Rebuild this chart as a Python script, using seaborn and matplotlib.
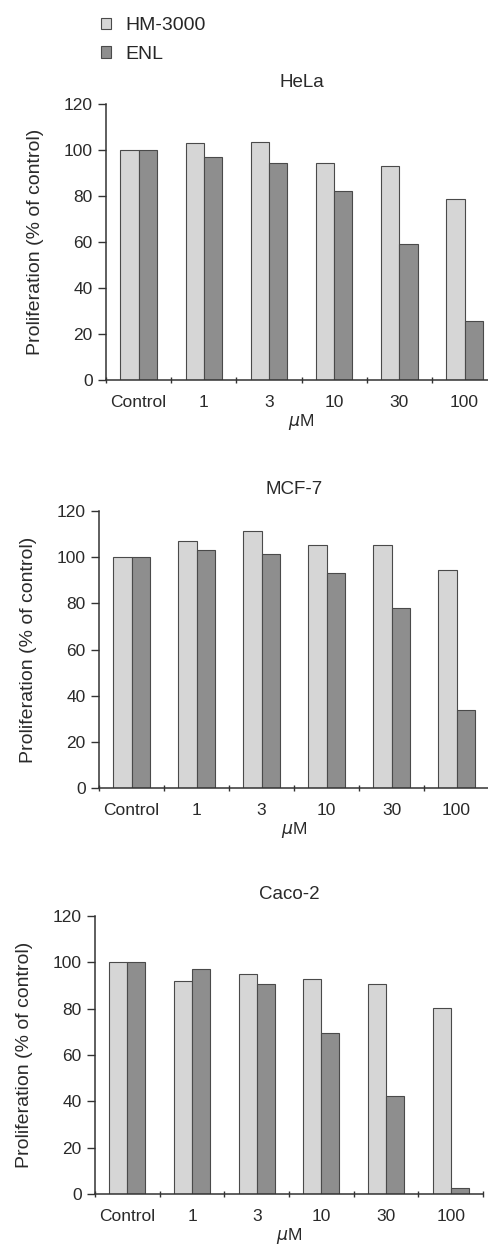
import pandas as pd
import matplotlib
matplotlib.use('Agg')
import matplotlib.pyplot as plt
import seaborn as sns
from matplotlib.patches import Patch

# Data
doses = ['Control', '1', '3', '10', '30', '100']
compounds = ['HM-3000', 'ENL']
cell_lines = ['HeLa', 'MCF-7', 'Caco-2']

hela_hm = [100, 103, 103.5, 94.5, 93, 78.5]
hela_enl = [100, 97, 94.5, 82, 59, 25.5]
mcf7_hm = [100, 107, 111.5, 105.5, 105.5, 94.5]
mcf7_enl = [100, 103, 101.5, 93, 78, 34]
caco2_hm = [100, 92, 95, 93, 90.5, 80.5]
caco2_enl = [100, 97, 90.5, 69.5, 42.5, 2.5]

series = {
    'HeLa': (hela_hm, hela_enl),
    'MCF-7': (mcf7_hm, mcf7_enl),
    'Caco-2': (caco2_hm, caco2_enl),
}

colors = {'HM-3000': '#d6d6d6', 'ENL': '#8e8e8e'}
edge = '#4a4a4a'
text_col = '#2a2a2a'

sns.set_style('ticks')
plt.rcParams['font.family'] = ['Liberation Sans', 'DejaVu Sans']

fig = plt.figure(figsize=(4.89, 12.55), dpi=100)

# axes rectangles [left, bottom, width, height] in figure fractions
rects = [
    [0.2168, 0.6972, 0.800, 0.2199],
    [0.2025, 0.3721, 0.7975, 0.2207],
    [0.1943, 0.0486, 0.7935, 0.2215],
]

for name, rect in zip(cell_lines, rects):
    hm, enl = series[name]
    df = pd.DataFrame({
        'dose': doses * 2,
        'value': hm + enl,
        'compound': ['HM-3000'] * len(doses) + ['ENL'] * len(doses),
    })
    ax = fig.add_axes(rect)
    sns.barplot(data=df, x='dose', y='value', hue='compound', order=doses,
                hue_order=compounds, palette=colors, width=0.56,
                edgecolor=edge, linewidth=0.8, saturation=1, legend=False, ax=ax)
    ax.set_xlim(-0.5, 5.5)
    ax.set_ylim(0, 120)
    ax.set_yticks(range(0, 121, 20))
    ax.set_xticks([i - 0.5 for i in range(7)], minor=True)
    ax.tick_params(axis='x', which='major', length=0, labelsize=12.5, pad=11,
                   labelcolor=text_col)
    ax.tick_params(axis='x', which='minor', length=5, width=1, color='#333333', direction='inout')
    ax.tick_params(axis='y', length=6, width=1, color='#333333', labelsize=12.5,
                   labelcolor=text_col)
    ax.set_title(name, fontsize=13.5, pad=12, color=text_col)
    ax.set_xlabel(r'$\mu$M', fontsize=12.5, labelpad=1, color=text_col)
    ax.set_ylabel('Proliferation (% of control)', fontsize=14, labelpad=14, color=text_col)
    for s in ['top', 'right']:
        ax.spines[s].set_visible(False)
    for s in ['left', 'bottom']:
        ax.spines[s].set_color('#333333')
        ax.spines[s].set_linewidth(1.1)

handles = [Patch(facecolor=colors[c], edgecolor=edge, linewidth=0.8, label=c) for c in compounds]
fig.legend(handles=handles, loc='upper left', bbox_to_anchor=(0.17, 1.0), frameon=False,
           handlelength=0.55, handleheight=0.55, handletextpad=0.7,
           labelspacing=0.6, prop={'size': 14})

fig.savefig('out.png', dpi=100)
